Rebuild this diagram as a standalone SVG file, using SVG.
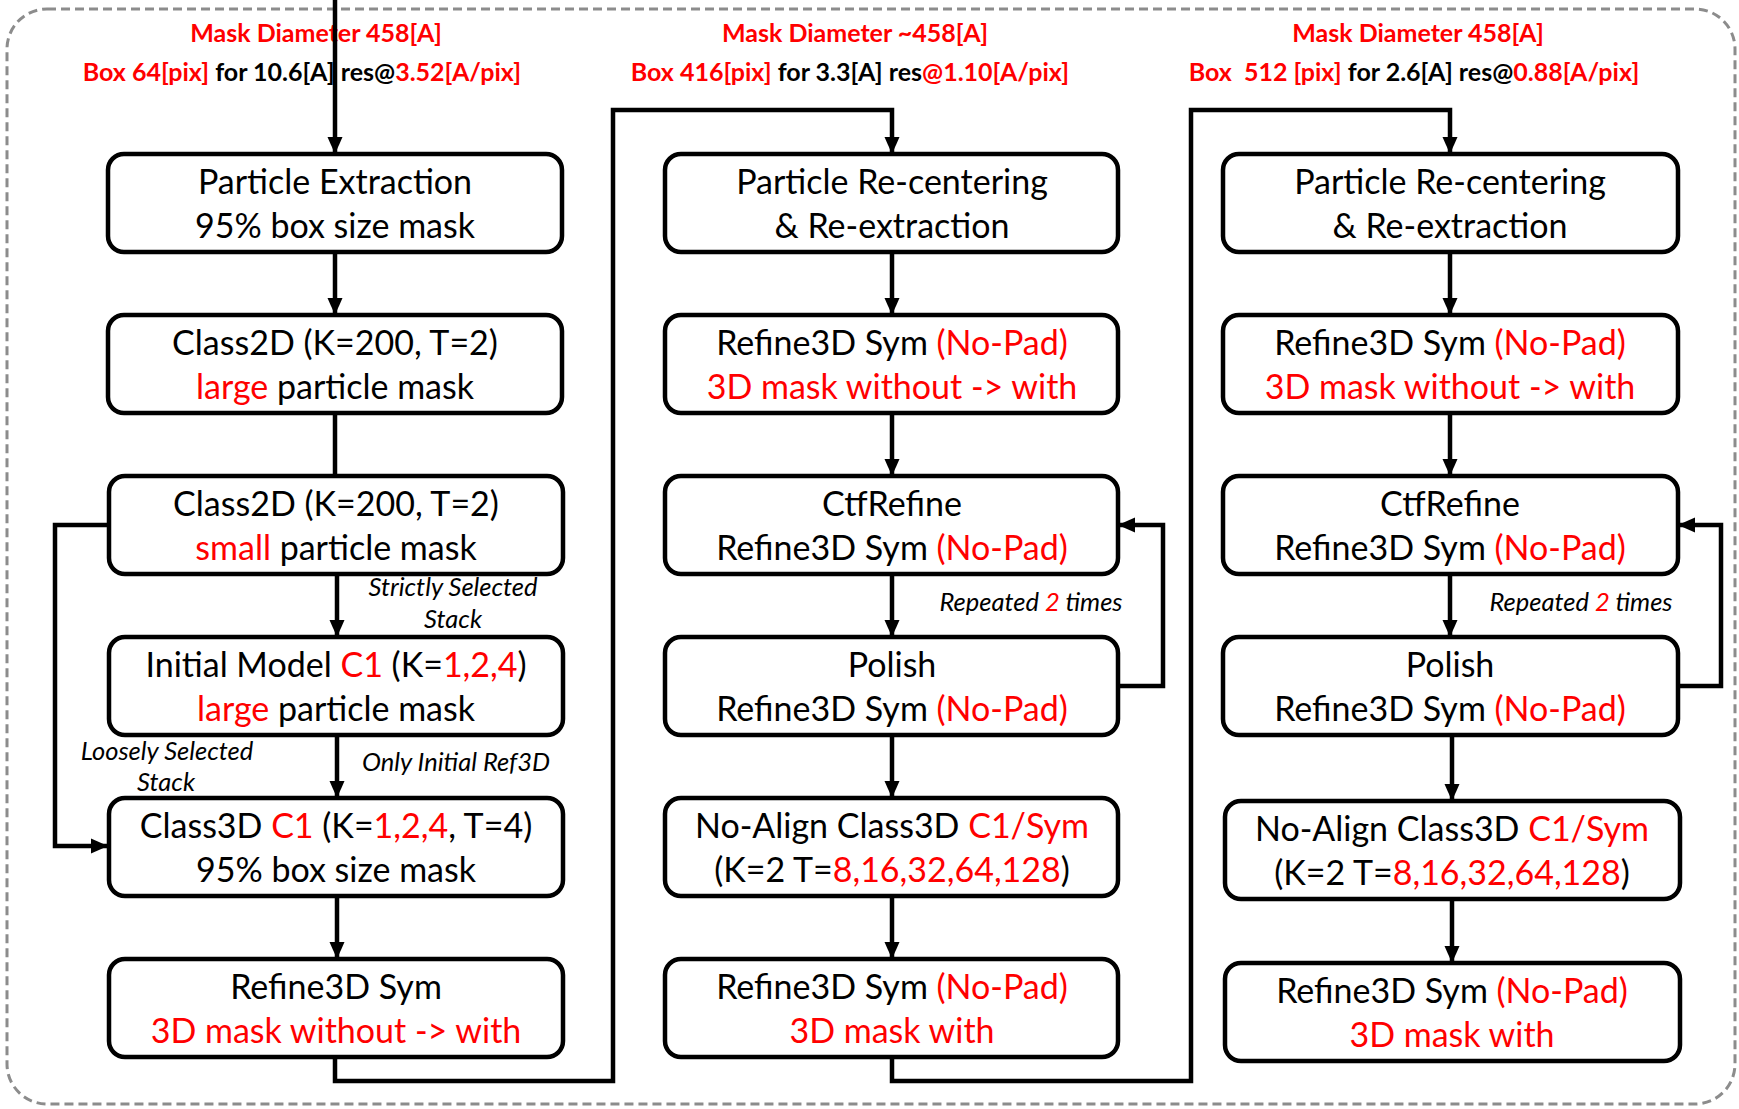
<svg xmlns="http://www.w3.org/2000/svg" width="1739" height="1109" viewBox="0 0 1739 1109">
<defs>
<marker id="arr" markerUnits="userSpaceOnUse" markerWidth="18" markerHeight="18" viewBox="0 0 18 18" refX="17" refY="9" orient="auto">
<path d="M0,1.5 L17,9 L0,16.5 Z" fill="#000"/>
</marker>
<style>
.box{fill:#fff;stroke:#000;stroke-width:4.5}
.t{font-family:Lato,"Open Sans",sans-serif;font-size:34px;fill:#000;text-anchor:middle}
.h{font-family:Lato,"Open Sans",sans-serif;font-size:25px;font-weight:bold;fill:#000;text-anchor:middle}
.l{font-family:Lato,"Open Sans",sans-serif;font-size:25.5px;font-style:italic;fill:#000;text-anchor:middle}
.r{fill:#ff0000}
.c{fill:none;stroke:#000;stroke-width:4.5}
.ca{fill:none;stroke:#000;stroke-width:4.5;marker-end:url(#arr)}
</style>
</defs>
<rect x="7" y="9" width="1728" height="1095" rx="40" fill="none" stroke="#8c8c8c" stroke-width="3" stroke-dasharray="9 5"/>

<g id="headers">
<text class="h r" x="316" y="42">Mask Diameter 458[A]</text>
<text class="h" x="302" y="81"><tspan class="r">Box 64[pix]</tspan> for 10.6[A] res@<tspan class="r">3.52[A/pix]</tspan></text>
<text class="h r" x="855" y="42">Mask Diameter ~458[A]</text>
<text class="h" x="850" y="81"><tspan class="r">Box 416[pix]</tspan> for 3.3[A] res<tspan class="r">@1.10[A/pix]</tspan></text>
<text class="h r" x="1418" y="42">Mask Diameter 458[A]</text>
<text class="h" x="1414" y="81" xml:space="preserve"><tspan class="r">Box  512 [pix]</tspan> for 2.6[A] res@<tspan class="r">0.88[A/pix]</tspan></text>
</g>

<g id="connectors">
<path class="ca" d="M335,0 V154"/>
<path class="ca" d="M335,252 V315"/>
<path class="c" d="M335,413 V476"/>
<path class="ca" d="M337,573 V637"/>
<path class="ca" d="M337,735 V798"/>
<path class="ca" d="M108,525 H55 V846 H108"/>
<path class="ca" d="M337,896 V959"/>
<path class="ca" d="M335,1057 V1081 H613 V110 H892 V154"/>
<path class="ca" d="M892,252 V315"/>
<path class="ca" d="M892,413 V476"/>
<path class="ca" d="M892,574 V637"/>
<path class="ca" d="M892,735 V798"/>
<path class="ca" d="M892,896 V959"/>
<path class="ca" d="M1118,686 H1163 V525 H1118"/>
<path class="ca" d="M892,1057 V1081 H1191 V110 H1450 V154"/>
<path class="ca" d="M1450,252 V315"/>
<path class="ca" d="M1450,413 V476"/>
<path class="ca" d="M1450,574 V637"/>
<path class="ca" d="M1452,735 V801"/>
<path class="ca" d="M1452,899 V963"/>
<path class="ca" d="M1678,686 H1721 V525 H1678"/>
<text class="l" x="453" y="596">Strictly Selected</text>
<text class="l" x="453" y="628">Stack</text>
<text class="l" x="456" y="771">Only Initial Ref3D</text>
<text class="l" x="167" y="760">Loosely Selected</text>
<text class="l" x="166" y="791">Stack</text>
<text class="l" x="1031" y="611">Repeated <tspan class="r">2</tspan> times</text>
<text class="l" x="1581" y="611">Repeated <tspan class="r">2</tspan> times</text>
</g>

<g id="c1r1"><rect class="box" x="108" y="154" width="454" height="98" rx="16"/>
<text class="t" x="335" y="194">Particle Extraction</text><text class="t" x="335" y="238">95% box size mask</text></g>
<g id="c1r2"><rect class="box" x="108" y="315" width="454" height="98" rx="16"/>
<text class="t" x="335" y="355">Class2D (K=200, T=2)</text><text class="t" x="335" y="399"><tspan class="r">large</tspan> particle mask</text></g>
<g id="c1r3"><rect class="box" x="109" y="476" width="454" height="98" rx="16"/>
<text class="t" x="336" y="516">Class2D (K=200, T=2)</text><text class="t" x="336" y="560"><tspan class="r">small</tspan> particle mask</text></g>
<g id="c1r4"><rect class="box" x="109" y="637" width="454" height="98" rx="16"/>
<text class="t" x="336" y="677">Initial Model <tspan class="r">C1</tspan> (K=<tspan class="r">1,2,4</tspan>)</text><text class="t" x="336" y="721"><tspan class="r">large</tspan> particle mask</text></g>
<g id="c1r5"><rect class="box" x="109" y="798" width="454" height="98" rx="16"/>
<text class="t" x="336" y="838">Class3D <tspan class="r">C1</tspan> (K=<tspan class="r">1,2,4</tspan>, T=4)</text><text class="t" x="336" y="882">95% box size mask</text></g>
<g id="c1r6"><rect class="box" x="109" y="959" width="454" height="98" rx="16"/>
<text class="t" x="336" y="999">Refine3D Sym</text><text class="t r" x="336" y="1043">3D mask without -&gt; with</text></g>

<g id="c2r1"><rect class="box" x="665" y="154" width="453" height="98" rx="16"/>
<text class="t" x="892" y="194">Particle Re-centering</text><text class="t" x="892" y="238">&amp; Re-extraction</text></g>
<g id="c2r2"><rect class="box" x="665" y="315" width="453" height="98" rx="16"/>
<text class="t" x="892" y="355">Refine3D Sym <tspan class="r">(No-Pad)</tspan></text><text class="t r" x="892" y="399">3D mask without -&gt; with</text></g>
<g id="c2r3"><rect class="box" x="665" y="476" width="453" height="98" rx="16"/>
<text class="t" x="892" y="516">CtfRefine</text><text class="t" x="892" y="560">Refine3D Sym <tspan class="r">(No-Pad)</tspan></text></g>
<g id="c2r4"><rect class="box" x="665" y="637" width="453" height="98" rx="16"/>
<text class="t" x="892" y="677">Polish</text><text class="t" x="892" y="721">Refine3D Sym <tspan class="r">(No-Pad)</tspan></text></g>
<g id="c2r5"><rect class="box" x="665" y="798" width="453" height="98" rx="16"/>
<text class="t" x="892" y="838">No-Align Class3D <tspan class="r">C1/Sym</tspan></text><text class="t" x="892" y="882">(K=2 T=<tspan class="r">8,16,32,64,128</tspan>)</text></g>
<g id="c2r6"><rect class="box" x="665" y="959" width="453" height="98" rx="16"/>
<text class="t" x="892" y="999">Refine3D Sym <tspan class="r">(No-Pad)</tspan></text><text class="t r" x="892" y="1043">3D mask with</text></g>

<g id="c3r1"><rect class="box" x="1223" y="154" width="455" height="98" rx="16"/>
<text class="t" x="1450" y="194">Particle Re-centering</text><text class="t" x="1450" y="238">&amp; Re-extraction</text></g>
<g id="c3r2"><rect class="box" x="1223" y="315" width="455" height="98" rx="16"/>
<text class="t" x="1450" y="355">Refine3D Sym <tspan class="r">(No-Pad)</tspan></text><text class="t r" x="1450" y="399">3D mask without -&gt; with</text></g>
<g id="c3r3"><rect class="box" x="1223" y="476" width="455" height="98" rx="16"/>
<text class="t" x="1450" y="516">CtfRefine</text><text class="t" x="1450" y="560">Refine3D Sym <tspan class="r">(No-Pad)</tspan></text></g>
<g id="c3r4"><rect class="box" x="1223" y="637" width="455" height="98" rx="16"/>
<text class="t" x="1450" y="677">Polish</text><text class="t" x="1450" y="721">Refine3D Sym <tspan class="r">(No-Pad)</tspan></text></g>
<g id="c3r5"><rect class="box" x="1225" y="801" width="455" height="98" rx="16"/>
<text class="t" x="1452" y="841">No-Align Class3D <tspan class="r">C1/Sym</tspan></text><text class="t" x="1452" y="885">(K=2 T=<tspan class="r">8,16,32,64,128</tspan>)</text></g>
<g id="c3r6"><rect class="box" x="1225" y="963" width="455" height="98" rx="16"/>
<text class="t" x="1452" y="1003">Refine3D Sym <tspan class="r">(No-Pad)</tspan></text><text class="t r" x="1452" y="1047">3D mask with</text></g>
</svg>
